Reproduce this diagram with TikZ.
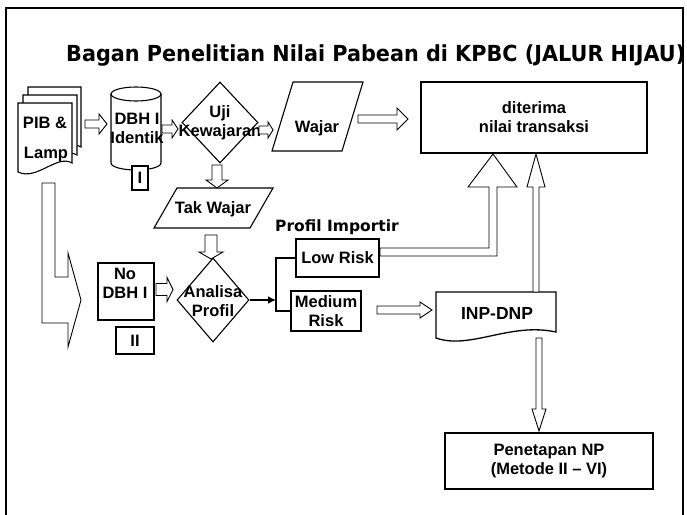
\documentclass[tikz,border=0pt]{standalone}
\usepackage{graphicx}
\usepackage{fontspec}
\setmainfont{Liberation Sans}
\newfontfamily\titlefont{DejaVu Sans}
\usetikzlibrary{shapes.geometric,calc,arrows.meta}
% block arrows between coordinates (canvas arithmetic)
\newcommand\rarr[5]{\path[blk] let \p1=#1, \p2=#2 in (\x1,\y1+#3) -- (\x2-#5,\y1+#3) -- (\x2-#5,\y1+#4) -- (\x2,\y1) -- (\x2-#5,\y1-#4) -- (\x2-#5,\y1-#3) -- (\x1,\y1-#3) -- cycle;}
\newcommand\darr[5]{\path[blk] let \p1=#1, \p2=#2 in (\x1-#3,\y1) -- (\x1-#3,\y2+#5) -- (\x1-#4,\y2+#5) -- (\x1,\y2) -- (\x1+#4,\y2+#5) -- (\x1+#3,\y2+#5) -- (\x1+#3,\y1) -- cycle;}
\newcommand\uarr[5]{\path[blk] let \p1=#1, \p2=#2 in (\x1-#3,\y1) -- (\x1-#3,\y2-#5) -- (\x1-#4,\y2-#5) -- (\x1,\y2) -- (\x1+#4,\y2-#5) -- (\x1+#3,\y2-#5) -- (\x1+#3,\y1) -- cycle;}
\newcommand\docpath[5]{(#1,#2) -- ({#1+#3},#2) -- ({#1+#3},{#2+#4-#5}) .. controls ({#1+0.72*#3},{#2+#4-2*#5}) and ({#1+0.35*#3},{#2+#4+#5}) .. (#1,{#2+#4}) -- cycle}
\begin{document}
\begin{tikzpicture}[x=1pt,y=-1pt,
  blk/.style={draw, fill=white, line width=0.9pt, line join=miter},
  shp/.style={draw, fill=white, line width=1.1pt},
  box/.style={draw, fill=white, line width=1.1pt, inner sep=0pt, align=center,
    font=\fontsize{16.5}{19}\selectfont\bfseries},
  txt/.style={inner sep=0pt, align=center, font=\fontsize{16.5}{19}\selectfont\bfseries},
  conn/.style={line width=2pt}]
\useasboundingbox (0,0) rectangle (687,514);
\fill[white] (0,0) rectangle (687,514);
\draw[line width=1.8pt] (6,520) -- (6,8) -- (683,8) -- (683,520);

% title
\node[anchor=base west, inner sep=0pt] (title) at (66,61)
  {\resizebox{619pt}{16.8pt}{\titlefont\bfseries\fontsize{20}{24}\selectfont Bagan Penelitian Nilai Pabean di KPBC (JALUR HIJAU)}};

% PIB & Lamp (multi document)
\draw[shp] \docpath{28}{87}{53}{69}{9};
\draw[shp] \docpath{23}{95}{54}{69}{9};
\draw[shp] \docpath{18}{103}{54}{69}{9};
\node[txt] (pib) at (45,123) {PIB \&};
\node[txt] (lamp) at (46,155) {Lamp};

% cylinder DBH I Identik
\draw[shp] (111,94) -- (111,163) arc[start angle=180,end angle=360,x radius=25pt,y radius=7pt]
  -- (161,94) arc[start angle=0,end angle=180,x radius=25pt,y radius=7pt] -- cycle;
\draw[line width=1.1pt] (111,94) arc[start angle=180,end angle=360,x radius=25pt,y radius=7pt];
\node[txt] (dbh) at (137,128) {DBH I\\Identik};
\node[box, minimum width=16pt, minimum height=24pt] (boxI) at (140,178) {I};

% Uji Kewajaran
\node[diamond, draw, line width=1.1pt, fill=white, inner sep=0pt, minimum width=76pt, minimum height=81pt] (uji) at (220,122.5) {};
\node[txt] (ujitxt) at (220,123) {Uji\\Kewajaran};

% Wajar
\draw[shp] (272,151) -- (342,151) -- (363,82) -- (293,82) -- cycle;
\node[txt] (wajar) at (317,128) {Wajar};

% diterima
\node[box, minimum width=226pt, minimum height=71pt] (diterima) at (534,117.5) {diterima\\nilai transaksi};

% Tak Wajar
\draw[shp] (154,228) -- (250,228) -- (273,188) -- (177,188) -- cycle;
\node[txt] (takwajar) at (213,209) {Tak Wajar};

% No DBH I
\node[box, minimum width=56pt, minimum height=57pt] (nodbh) at (126,291.5) {};
\node[txt] (nodbhtxt) at (125,283) {No\\DBH I};
\node[box, minimum width=38pt, minimum height=27pt] (boxII) at (135,340.5) {II};

% Analisa Profil
\node[diamond, draw, line width=1.1pt, fill=white, inner sep=0pt, minimum width=72pt, minimum height=84pt] (analisa) at (213,300) {};
\node[txt] (analisatxt) at (213,301) {Analisa\\Profil};

% Profil Importir
\node[inner sep=0pt, font=\titlefont\bfseries\fontsize{15.5}{18}\selectfont] (profil) at (337,227) {Profil Importir};
\node[box, line width=2pt, minimum width=83pt, minimum height=38pt] (low) at (337.5,258) {Low Risk};
\node[box, line width=2pt, minimum width=70pt, minimum height=40pt] (medium) at (326,311) {Medium\\Risk};

% INP-DNP
\draw[line width=1.3pt, fill=white] (436,292) -- (556,292) -- (556,332) .. controls (510,322) and (470,350) .. (436,338) -- cycle;
\node[txt, font=\fontsize{17.5}{19}\selectfont\bfseries] (inp) at (497,313) {INP-DNP};

% Penetapan
\node[box, line width=1.6pt, minimum width=208pt, minimum height=56pt] (penetapan) at (549,461) {Penetapan NP\\(Metode II – VI)};

% connector coordinates
\coordinate (a1s) at (85,124);   \coordinate (a1e) at (107,124);
\coordinate (a2s) at (162,129);  \coordinate (a2e) at (178,129);
\coordinate (a3s) at (259,130);  \coordinate (a3e) at (273,130);
\coordinate (a4s) at (358,119);  \coordinate (a4e) at (408,119);
\coordinate (a5s) at (156,289.5);\coordinate (a5e) at (173,289.5);
\coordinate (a6s) at (377,310);  \coordinate (a6e) at (432,310);
\coordinate (d1s) at (217,165);  \coordinate (d1e) at (217,188);
\coordinate (d2s) at (211,235);  \coordinate (d2e) at (211,259);
\coordinate (d3s) at (539,338);  \coordinate (d3e) at (539,431);
\coordinate (u1s) at (536,292);  \coordinate (u1e) at (536,154);
\coordinate (lowtip) at (493,154);
\coordinate (sp) at (276,300);

% block arrows
\rarr{(a1s)}{(a1e)}{4pt}{10pt}{8pt}
\rarr{(a2s)}{(a2e)}{4pt}{9pt}{6pt}
\rarr{(a3s)}{(a3e)}{4pt}{8pt}{5pt}
\rarr{(a4s)}{(a4e)}{4pt}{11pt}{11pt}
\rarr{(a5s)}{(a5e)}{6pt}{12pt}{6pt}
\rarr{(a6s)}{(a6e)}{4pt}{8pt}{12pt}
\darr{(d1s)}{(d1e)}{5pt}{11pt}{8pt}
\darr{(d2s)}{(d2e)}{6pt}{12pt}{7pt}
\darr{(d3s)}{(d3e)}{3pt}{7pt}{22pt}
\uarr{(u1s)}{(u1e)}{3pt}{9pt}{33pt}

% Low Risk -> diterima (bent block arrow)
\path[blk] let \p1=(low.east), \p2=(lowtip) in
  (\x1,\y1+10pt) -- (\x2-4pt,\y1+10pt) -- (\x2-4pt,\y2-33pt) -- (\x2-25pt,\y2-33pt) -- (\x2,\y2)
  -- (\x2+24pt,\y2-33pt) -- (\x2+4pt,\y2-33pt) -- (\x2+4pt,\y1+2pt) -- (\x1,\y1+2pt) -- cycle;

% PIB -> No DBH I (big bent block arrow)
\path[blk] (42,183) -- (55,183) -- (55,277) -- (68,277) -- (68,253) -- (81,300) -- (68,347) -- (68,323) -- (42,323) -- cycle;

% Analisa -> risk profile
\draw[conn, -{Latex[length=8pt,width=8pt]}] (analisa.east) -- (sp);
\draw[conn] (low.west) -| (sp) |- (medium.west);
\end{tikzpicture}
\end{document}
